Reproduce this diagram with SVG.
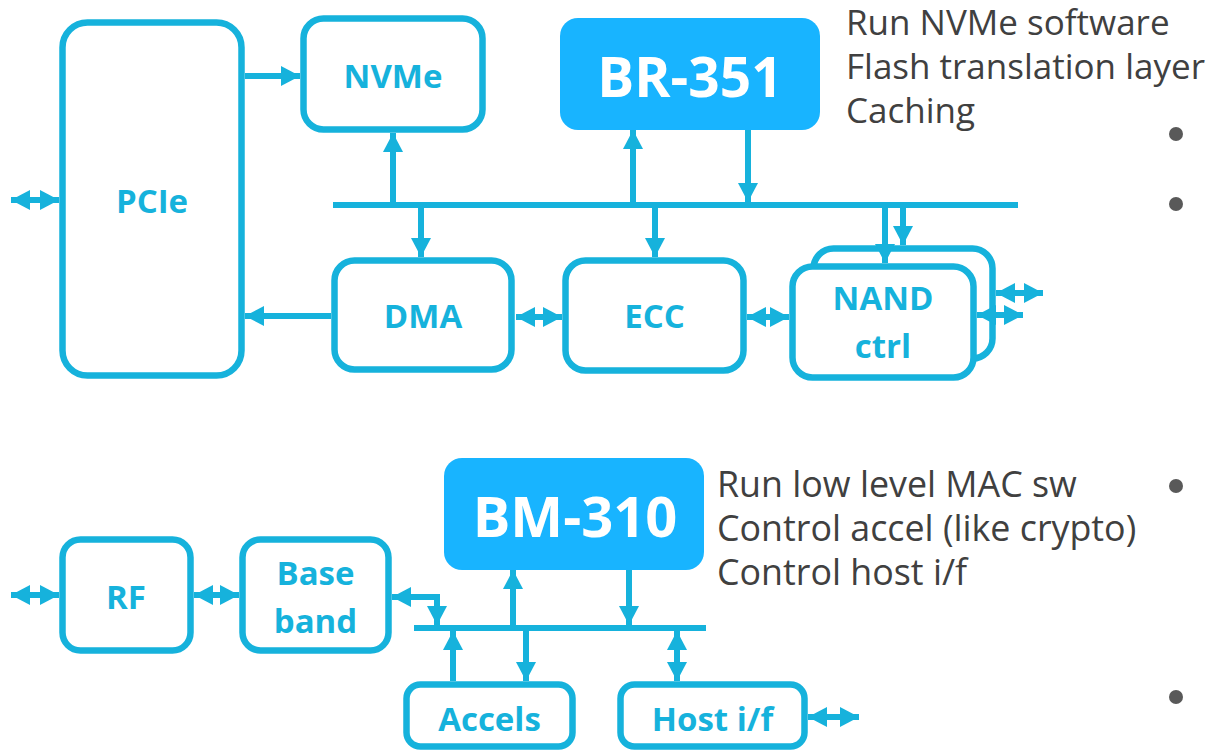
<svg xmlns="http://www.w3.org/2000/svg" width="1206" height="752" viewBox="0 0 1206 752">
<style>
.box{fill:#fff;stroke:#16B2DC;stroke-width:6.5}
.cpu{fill:#18B4FF;stroke:none}
.lbl{font-family:"Open Sans","Noto Sans",sans-serif;font-weight:700;font-size:33px;fill:#16B2DC;text-anchor:middle}
.big{font-family:"Open Sans","Noto Sans",sans-serif;font-weight:700;font-size:55px;fill:#fff;text-anchor:middle}
.note{font-family:"Open Sans","Noto Sans",sans-serif;font-size:35px;fill:#404040}
.c{fill:none;stroke:#16B2DC;stroke-width:6}
.a{marker-end:url(#ah)}
.d{marker-start:url(#ah);marker-end:url(#ah)}
.dot{fill:#595959}
</style>
<defs>
<marker id="ah" viewBox="0 0 19 20" refX="19" refY="10" markerWidth="19" markerHeight="20" markerUnits="userSpaceOnUse" orient="auto-start-reverse">
<path d="M0,0 L19,10 L0,20 z" fill="#16B2DC"/>
</marker>
</defs>
<g id="pcie"><rect class="box" x="62.5" y="22.5" width="179" height="353" rx="25"/><text class="lbl" x="152" y="213">PCIe</text></g>
<g id="nvme"><rect class="box" x="303.5" y="18.5" width="179" height="111" rx="20"/><text class="lbl" x="393" y="88">NVMe</text></g>
<g id="br351"><rect class="cpu" x="560" y="18" width="260" height="112" rx="18"/><text class="big" x="690" y="97">BR-351</text></g>
<g id="dma"><rect class="box" x="334.5" y="260.5" width="177" height="109" rx="20"/><text class="lbl" x="423" y="328">DMA</text></g>
<g id="ecc"><rect class="box" x="565.5" y="260.5" width="178" height="110" rx="20"/><text class="lbl" x="654.5" y="328">ECC</text></g>
<g id="nand"><rect class="box" x="813.5" y="248.5" width="179" height="110" rx="20"/><rect class="box" x="792.5" y="266.5" width="181" height="111" rx="20"/><text class="lbl" x="883" y="310">NAND</text><text class="lbl" x="883" y="358">ctrl</text></g>
<g id="notes-top" class="note"><text x="846" y="35">Run NVMe software</text><text x="846" y="79">Flash translation layer</text><text x="846" y="123">Caching</text></g>
<g id="bullets"><circle class="dot" cx="1176" cy="134" r="7"/><circle class="dot" cx="1176" cy="204" r="7"/><circle class="dot" cx="1176" cy="486" r="7"/><circle class="dot" cx="1176" cy="697" r="7"/></g>
<g id="rf"><rect class="box" x="62.5" y="539.5" width="128" height="111" rx="18"/><text class="lbl" x="126" y="609">RF</text></g>
<g id="baseband"><rect class="box" x="242.5" y="539.5" width="146" height="111" rx="18"/><text class="lbl" x="315.5" y="585">Base</text><text class="lbl" x="315.5" y="633">band</text></g>
<g id="bm310"><rect class="cpu" x="444" y="458" width="260" height="112" rx="18"/><text class="big" x="575" y="537" style="font-size:56px">BM-310</text></g>
<g id="accels"><rect class="box" x="406.5" y="684.5" width="166" height="62" rx="14"/><text class="lbl" x="489.5" y="731">Accels</text></g>
<g id="hostif"><rect class="box" x="620.5" y="684.5" width="184" height="62" rx="14"/><text class="lbl" x="712.5" y="731">Host i/f</text></g>
<g id="notes-bottom" class="note" style="font-size:35.8px"><text x="717" y="497">Run low level MAC sw</text><text x="717" y="541">Control accel (like crypto)</text><text x="717" y="585">Control host i/f</text></g>
<g id="connectors">
<line class="c d" x1="11" y1="200" x2="59" y2="200"/>
<line class="c a" x1="245" y1="76" x2="300" y2="76"/>
<line class="c" x1="333" y1="205" x2="1018" y2="205"/>
<line class="c a" x1="393" y1="205" x2="393" y2="133"/>
<line class="c a" x1="421" y1="205" x2="421" y2="257"/>
<line class="c a" x1="331" y1="316" x2="245" y2="316"/>
<line class="c d" x1="516" y1="317" x2="562" y2="317"/>
<line class="c a" x1="633" y1="205" x2="633" y2="130"/>
<line class="c a" x1="748" y1="130" x2="748" y2="202"/>
<line class="c a" x1="655" y1="205" x2="655" y2="257"/>
<line class="c a" x1="885" y1="205" x2="885" y2="263"/>
<line class="c a" x1="903" y1="205" x2="903" y2="245"/>
<line class="c d" x1="747" y1="317" x2="789" y2="317"/>
<line class="c d" x1="996" y1="293" x2="1043" y2="293"/>
<line class="c d" x1="977" y1="315" x2="1023" y2="315"/>
<line class="c d" x1="11" y1="595" x2="59" y2="595"/>
<line class="c d" x1="194" y1="595" x2="239" y2="595"/>
<path class="c d" d="M392,597 H437 V625"/>
<line class="c" x1="414" y1="628" x2="706" y2="628"/>
<line class="c a" x1="513" y1="628" x2="513" y2="570"/>
<line class="c a" x1="629" y1="570" x2="629" y2="625"/>
<line class="c a" x1="453" y1="681" x2="453" y2="631"/>
<line class="c a" x1="526" y1="628" x2="526" y2="681"/>
<line class="c d" x1="677" y1="631" x2="677" y2="681"/>
<line class="c d" x1="808" y1="717" x2="859" y2="717"/>
</g>
</svg>
